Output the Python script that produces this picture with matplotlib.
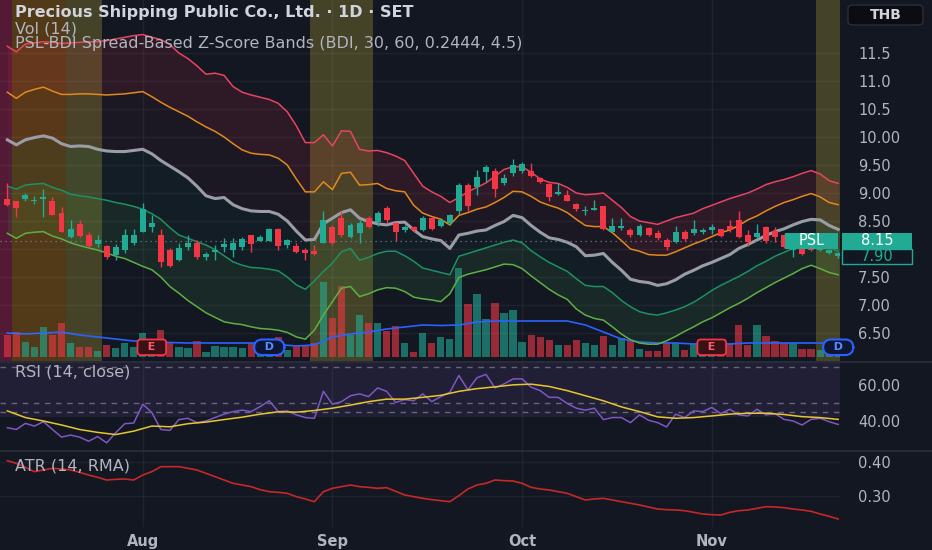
import numpy as np
import matplotlib.pyplot as plt
from matplotlib.patches import Rectangle, FancyBboxPatch
from matplotlib.lines import Line2D
from matplotlib.transforms import blended_transform_factory

# ---- daily candles (PSL, 1D, SET) ----
opens = [8.90, 8.86, 8.89, 8.86, 8.89, 8.86, 8.65, 8.21, 8.45, 8.25,
         8.09, 8.05, 7.89, 7.98, 8.11, 8.31, 8.39, 8.25, 7.99, 7.80,
         8.03, 8.11, 7.86, 7.95, 8.04, 7.99, 8.04, 8.25, 8.15, 8.15,
         8.35, 8.08, 8.05, 7.98, 7.97, 8.10, 8.40, 8.55, 8.21, 8.29,
         8.55, 8.49, 8.74, 8.47, 8.34, 8.39, 8.34, 8.55, 8.41, 8.47,
         8.68, 9.14, 9.10, 9.37, 9.40, 9.18, 9.35, 9.40, 9.40, 9.26,
         9.16, 8.98, 8.96, 8.80, 8.68, 8.70, 8.76, 8.31, 8.37, 8.34,
         8.25, 8.37, 8.28, 8.16, 8.13, 8.31, 8.29, 8.30, 8.34, 8.35,
         8.41, 8.52, 8.25, 8.22, 8.39, 8.33, 8.25, 7.98, 8.01, 8.04,
         7.99, 7.93, 7.87]
highs = [9.17, 8.86, 9.00, 8.95, 9.07, 8.93, 8.75, 8.51, 8.51, 8.31,
         8.25, 8.07, 8.09, 8.35, 8.35, 8.82, 8.61, 8.35, 8.01, 8.10,
         8.25, 8.16, 7.95, 8.07, 8.19, 8.19, 8.21, 8.25, 8.25, 8.37,
         8.37, 8.17, 8.10, 8.01, 8.07, 8.67, 8.43, 8.67, 8.47, 8.52,
         8.59, 8.67, 8.76, 8.49, 8.43, 8.41, 8.59, 8.58, 8.55, 8.63,
         9.18, 9.18, 9.41, 9.50, 9.44, 9.34, 9.60, 9.56, 9.54, 9.29,
         9.17, 9.17, 9.05, 8.82, 8.76, 8.87, 8.77, 8.55, 8.55, 8.37,
         8.45, 8.40, 8.34, 8.19, 8.41, 8.34, 8.52, 8.37, 8.45, 8.35,
         8.51, 8.67, 8.34, 8.45, 8.41, 8.40, 8.27, 8.08, 8.03, 8.05,
         8.05, 8.00, 7.94]
lows = [8.76, 8.58, 8.86, 8.80, 8.57, 8.61, 8.31, 8.19, 8.21, 8.03,
        8.04, 7.83, 7.80, 7.92, 8.07, 8.31, 8.31, 7.68, 7.67, 7.79,
        7.98, 7.83, 7.80, 7.80, 7.95, 7.85, 7.98, 7.95, 8.15, 8.15,
        7.99, 8.01, 7.92, 7.80, 7.89, 8.10, 8.07, 8.21, 8.19, 8.11,
        8.37, 8.41, 8.47, 8.15, 8.31, 8.31, 8.33, 8.34, 8.40, 8.43,
        8.63, 8.67, 8.96, 9.20, 8.92, 9.14, 9.30, 9.35, 9.28, 9.18,
        8.86, 8.96, 8.85, 8.67, 8.61, 8.70, 8.34, 8.31, 8.34, 8.21,
        8.23, 8.23, 8.16, 7.99, 8.11, 8.15, 8.25, 8.27, 8.27, 8.21,
        8.31, 8.19, 8.05, 8.19, 8.11, 8.13, 8.01, 7.85, 7.89, 7.97,
        7.97, 7.91, 7.84]
closes = [8.79, 8.74, 8.96, 8.88, 8.92, 8.61, 8.31, 8.35, 8.23, 8.05,
          8.16, 7.85, 8.04, 8.25, 8.25, 8.71, 8.46, 7.76, 7.70, 8.01,
          8.10, 7.85, 7.91, 7.99, 8.09, 8.10, 8.17, 8.09, 8.21, 8.35,
          8.05, 8.16, 7.95, 7.92, 7.91, 8.51, 8.10, 8.25, 8.43, 8.47,
          8.39, 8.64, 8.51, 8.31, 8.39, 8.34, 8.55, 8.35, 8.52, 8.61,
          9.15, 8.76, 9.29, 9.47, 9.07, 9.26, 9.50, 9.52, 9.31, 9.20,
          8.92, 9.01, 8.86, 8.71, 8.70, 8.73, 8.35, 8.41, 8.41, 8.25,
          8.41, 8.25, 8.19, 8.03, 8.31, 8.17, 8.35, 8.34, 8.40, 8.23,
          8.34, 8.21, 8.13, 8.29, 8.15, 8.21, 8.04, 8.03, 7.91, 7.98,
          8.03, 7.98, 7.92]
volume = [2.2, 2.5, 1.5, 1.0, 3.0, 2.2, 3.4, 1.4, 1.0, 1.0,
          0.6, 1.2, 0.9, 1.4, 1.0, 2.4, 1.8, 2.7, 1.4, 1.0,
          0.9, 1.6, 0.5, 1.1, 1.0, 1.0, 0.9, 1.4, 1.0, 1.0,
          2.0, 0.7, 1.2, 1.2, 1.4, 7.5, 3.9, 7.1, 2.2, 4.2,
          3.4, 3.4, 2.6, 3.1, 1.4, 0.5, 2.4, 1.4, 2.0, 1.8,
          8.9, 5.3, 6.3, 3.8, 5.4, 4.4, 4.7, 1.5, 2.2, 2.0,
          1.7, 1.2, 1.2, 1.7, 1.4, 1.2, 2.1, 1.2, 1.9, 1.7,
          0.8, 0.6, 0.6, 1.4, 1.4, 0.7, 1.3, 0.7, 0.8, 0.7,
          1.4, 3.2, 1.2, 3.2, 2.1, 1.6, 1.4, 1.4, 0.8, 0.8,
          0.7, 0.8, 0.7]
# Vol (14) average, read every second bar
vol_ma = [2.4, 2.3, 2.4, 2.5, 2.2, 2.0, 1.8, 1.6, 1.5, 1.45,
          1.4, 1.4, 1.4, 1.4, 1.4, 1.25, 1.1, 1.2, 2.0, 2.3,
          2.5, 2.8, 3.0, 3.2, 3.15, 3.2, 3.5, 3.6, 3.6, 3.6,
          3.6, 3.6, 3.2, 2.5, 1.8, 1.5, 1.4, 1.4, 1.3, 1.4,
          1.3, 1.4, 1.4, 1.4, 1.4, 1.4, 1.4]

# ---- PSL-BDI z-score bands ----
band_up2 = [11.62, 11.52, 11.66, 11.68, 11.70, 11.69, 11.67, 11.68, 11.69, 11.70,
            11.70, 11.72, 11.75, 11.78, 11.81, 11.83, 11.78, 11.74, 11.65, 11.50,
            11.40, 11.27, 11.12, 11.14, 11.10, 10.90, 10.80, 10.75, 10.71, 10.67,
            10.60, 10.45, 10.20, 9.90, 9.90, 10.04, 9.84, 10.11, 10.10, 9.78,
            9.75, 9.76, 9.72, 9.66, 9.58, 9.35, 9.12, 9.02, 8.94, 8.83,
            8.92, 9.02, 9.10, 9.18, 9.30, 9.42, 9.47, 9.47, 9.37, 9.25,
            9.19, 9.17, 9.10, 9.00, 8.97, 8.98, 9.00, 8.87, 8.74, 8.58,
            8.50, 8.47, 8.44, 8.50, 8.56, 8.60, 8.64, 8.72, 8.78, 8.84,
            8.90, 8.95, 9.00, 9.07, 9.15, 9.20, 9.24, 9.29, 9.35, 9.40,
            9.34, 9.22, 9.17]
band_up1 = [10.80, 10.69, 10.80, 10.85, 10.89, 10.82, 10.76, 10.76, 10.77, 10.77,
            10.76, 10.75, 10.76, 10.77, 10.79, 10.81, 10.72, 10.62, 10.53, 10.45,
            10.37, 10.27, 10.18, 10.10, 10.00, 9.88, 9.77, 9.71, 9.69, 9.68,
            9.62, 9.50, 9.25, 9.02, 9.02, 9.20, 9.06, 9.35, 9.37, 9.14,
            9.15, 9.17, 9.08, 9.04, 9.02, 8.78, 8.64, 8.58, 8.53, 8.43,
            8.60, 8.65, 8.71, 8.75, 8.83, 8.92, 9.03, 9.02, 8.94, 8.84,
            8.78, 8.73, 8.65, 8.53, 8.42, 8.40, 8.40, 8.29, 8.15, 8.00,
            7.96, 7.90, 7.89, 7.89, 7.95, 8.02, 8.09, 8.15, 8.22, 8.29,
            8.34, 8.42, 8.52, 8.59, 8.68, 8.76, 8.83, 8.88, 8.94, 8.99,
            8.93, 8.83, 8.79]
band_mid = [9.95, 9.86, 9.95, 9.99, 10.02, 9.98, 9.88, 9.83, 9.84, 9.83,
            9.78, 9.75, 9.74, 9.74, 9.76, 9.78, 9.70, 9.58, 9.48, 9.38,
            9.27, 9.12, 8.95, 8.90, 8.92, 8.79, 8.72, 8.68, 8.67, 8.67,
            8.62, 8.50, 8.32, 8.16, 8.17, 8.45, 8.55, 8.65, 8.70, 8.55,
            8.49, 8.45, 8.43, 8.47, 8.48, 8.34, 8.22, 8.18, 8.15, 8.01,
            8.25, 8.28, 8.32, 8.34, 8.42, 8.49, 8.60, 8.56, 8.42, 8.30,
            8.20, 8.17, 8.12, 8.04, 7.88, 7.89, 7.92, 7.76, 7.62, 7.46,
            7.42, 7.40, 7.35, 7.38, 7.45, 7.55, 7.62, 7.70, 7.76, 7.83,
            7.90, 8.01, 8.08, 8.16, 8.24, 8.31, 8.36, 8.43, 8.49, 8.53,
            8.52, 8.42, 8.35]
band_dn1 = [9.12, 9.07, 9.14, 9.16, 9.17, 9.10, 9.05, 8.98, 8.95, 8.93,
            8.90, 8.87, 8.83, 8.80, 8.76, 8.71, 8.63, 8.53, 8.38, 8.25,
            8.19, 8.13, 8.07, 7.99, 7.88, 7.77, 7.71, 7.67, 7.66, 7.64,
            7.61, 7.50, 7.36, 7.28, 7.43, 7.60, 7.75, 7.95, 8.01, 7.80,
            7.85, 7.92, 7.96, 7.96, 7.88, 7.78, 7.66, 7.62, 7.58, 7.54,
            7.87, 7.92, 7.97, 8.02, 8.07, 8.12, 8.16, 8.11, 7.97, 7.86,
            7.76, 7.68, 7.60, 7.47, 7.35, 7.33, 7.33, 7.22, 7.08, 6.97,
            6.88, 6.84, 6.82, 6.86, 6.91, 6.97, 7.05, 7.15, 7.26, 7.35,
            7.43, 7.51, 7.60, 7.70, 7.78, 7.87, 7.94, 8.01, 8.08, 8.13,
            8.09, 8.03, 7.96]
band_dn2 = [8.28, 8.19, 8.28, 8.30, 8.31, 8.23, 8.18, 8.11, 8.06, 8.02,
            7.98, 7.93, 7.87, 7.83, 7.76, 7.69, 7.63, 7.50, 7.33, 7.21,
            7.08, 6.97, 6.86, 6.78, 6.70, 6.67, 6.65, 6.61, 6.58, 6.57,
            6.55, 6.51, 6.43, 6.39, 6.55, 6.82, 7.06, 7.30, 7.33, 7.15,
            7.20, 7.27, 7.31, 7.30, 7.24, 7.14, 7.11, 7.09, 7.06, 7.20,
            7.49, 7.55, 7.59, 7.63, 7.68, 7.73, 7.72, 7.65, 7.52, 7.40,
            7.28, 7.18, 7.10, 6.93, 6.82, 6.76, 6.73, 6.61, 6.48, 6.38,
            6.32, 6.30, 6.30, 6.36, 6.44, 6.53, 6.61, 6.70, 6.77, 6.86,
            6.95, 7.03, 7.12, 7.22, 7.31, 7.40, 7.48, 7.56, 7.65, 7.71,
            7.65, 7.58, 7.54]

# ---- RSI (14, close) and its average (read every second bar) ----
rsi = [36.5, 35.5, 38.9, 37.4, 39.8, 35.5, 31.3, 32.4, 31.3, 29.0,
       31.6, 28.1, 33.7, 38.7, 39.1, 49.5, 44.9, 35.5, 35.0, 41.0,
       41.7, 39.3, 40.2, 42.1, 44.0, 45.4, 46.2, 45.4, 48.2, 51.4,
       45.4, 45.8, 43.6, 42.1, 41.7, 56.6, 49.5, 50.9, 54.2, 55.2,
       53.7, 58.5, 56.6, 50.5, 52.0, 51.4, 55.2, 50.9, 53.7, 56.1,
       65.4, 57.4, 64.1, 66.0, 58.5, 60.7, 63.5, 63.5, 58.9, 57.0,
       53.3, 53.3, 49.9, 47.3, 46.2, 47.3, 41.0, 42.1, 42.1, 39.3,
       43.6, 40.6, 39.3, 36.9, 44.0, 42.1, 45.8, 45.4, 47.7, 44.3,
       46.7, 43.6, 43.0, 46.7, 43.6, 44.3, 41.1, 40.2, 38.0, 41.1,
       41.7, 39.8, 38.3]
rsi_ma = [45.8, 42.1, 40.2, 38.0, 35.5, 33.9, 32.7, 34.6, 37.4, 37.0,
          38.7, 39.6, 41.0, 42.3, 44.0, 45.3, 45.1, 46.0, 47.3, 49.0,
          50.9, 52.3, 52.3, 53.3, 54.4, 56.6, 58.1, 59.1, 60.2, 60.6,
          59.3, 57.0, 54.2, 51.4, 48.0, 45.4, 42.5, 41.7, 42.1, 43.0,
          44.0, 44.5, 44.5, 43.8, 42.6, 42.1, 41.1]
rsi_levels = [70, 50, 45]
rsi_zone = (42.6, 80)

# ---- ATR (14, RMA) ----
atr = [0.405, 0.397, 0.385, 0.372, 0.377, 0.382, 0.380, 0.377, 0.370, 0.362,
       0.355, 0.347, 0.349, 0.350, 0.347, 0.362, 0.372, 0.387, 0.387, 0.387,
       0.382, 0.377, 0.367, 0.357, 0.347, 0.337, 0.332, 0.327, 0.318, 0.312,
       0.310, 0.307, 0.297, 0.290, 0.282, 0.312, 0.322, 0.327, 0.332, 0.327,
       0.325, 0.322, 0.324, 0.313, 0.302, 0.297, 0.292, 0.288, 0.285, 0.282,
       0.300, 0.320, 0.332, 0.337, 0.347, 0.345, 0.344, 0.337, 0.325, 0.320,
       0.317, 0.312, 0.307, 0.297, 0.287, 0.290, 0.292, 0.287, 0.282, 0.277,
       0.272, 0.266, 0.260, 0.258, 0.257, 0.255, 0.250, 0.245, 0.243, 0.242,
       0.250, 0.255, 0.257, 0.262, 0.267, 0.266, 0.264, 0.260, 0.257, 0.253,
       0.245, 0.238, 0.230]

# signal zones painted behind the price (bar ranges, level 3 = strongest)
zone_start = [-1.5, 0.5, 6.5, 33.5, 89.5]
zone_end = [0.5, 6.5, 10.5, 40.5, 93.5]
zone_level = [3, 2, 1, 1, 1]
earnings_bars = [16, 78]
dividend_bars = [29, 92]

month_bars = [15, 36, 57, 78]
month_labels = ['Aug', 'Sep', 'Oct', 'Nov']
price_ticks = [6.5, 7.0, 7.5, 8.0, 8.5, 9.0, 9.5, 10.0, 10.5, 11.0, 11.5]
price_labels = ['6.50', '7.00', '7.50', '', '8.50', '9.00', '9.50', '10.00', '10.5', '11.0', '11.5']
last_price = 8.15
close_price = '7.90'

BG = '#131722'
TXT = '#b2b5be'
UP = '#22ab94'
DOWN = '#f23645'
zone_colors = {3: ('#e91e63', 0.30), 2: ('#ff9800', 0.27), 1: ('#ffeb3b', 0.21)}
grid_kw = dict(color='white', alpha=0.05, lw=1)

W, H = 932, 550


def rect(x0, y0, x1, y1):
    return [x0 / W, 1 - y1 / H, (x1 - x0) / W, (y1 - y0) / H]


bars = np.arange(len(closes))
half = bars[::2]
o = np.array(opens)
c = np.array(closes)
up = c >= o
ccol = np.where(up, UP, DOWN)

fig = plt.figure(figsize=(W / 100, H / 100), dpi=100, facecolor=BG)
ax_vol = fig.add_axes(rect(0, 0, 840, 361))
ax = fig.add_axes(rect(0, 0, 840, 361), sharex=ax_vol)
ax_rsi = fig.add_axes(rect(0, 361, 840, 451), sharex=ax_vol)
ax_atr = fig.add_axes(rect(0, 451, 840, 527), sharex=ax_vol)

for a in (ax_vol, ax, ax_rsi, ax_atr):
    a.set_facecolor(BG)
    for s in a.spines.values():
        s.set_visible(False)
    a.set_xticks(month_bars)
    a.tick_params(axis='x', length=0, labelbottom=False)
    a.set_axisbelow(True)
for a in (ax_vol, ax_rsi, ax_atr):
    a.grid(True, axis='x', **grid_kw)
ax.patch.set_visible(False)
ax_vol.set_xlim(-0.81, 92.2)

# zones + volume (bottom layer)
for s, e, lv in zip(zone_start, zone_end, zone_level):
    col, al = zone_colors[lv]
    ax_vol.axvspan(s, e, color=col, alpha=al, lw=0, zorder=0)
ax_vol.bar(bars, volume, width=0.8, color=ccol, alpha=0.6, zorder=1)
ax_vol.plot(half, vol_ma, color='#2962ff', lw=1.2, zorder=2)
ax_vol.set_ylim(-0.4, 35.7)
ax_vol.set_yticks([])

# bands
ax.fill_between(bars, band_up2, band_up1, color=DOWN, alpha=0.12, lw=0, zorder=1)
ax.fill_between(bars, band_up1, band_mid, color=DOWN, alpha=0.04, lw=0, zorder=1)
ax.fill_between(bars, band_mid, band_dn1, color='#089981', alpha=0.05, lw=0, zorder=1)
ax.fill_between(bars, band_dn1, band_dn2, color='#4caf50', alpha=0.12, lw=0, zorder=1)
ax.plot(bars, band_up2, color='#e8445f', lw=1.1, zorder=2)
ax.plot(bars, band_up1, color='#e08a1e', lw=1.1, zorder=2)
ax.plot(bars, band_mid, color='#9a9da6', lw=2.2, zorder=2)
ax.plot(bars, band_dn1, color='#1d9163', lw=1.1, zorder=2)
ax.plot(bars, band_dn2, color='#5fae45', lw=1.1, zorder=2)
ax.axhline(last_price, color='#787b86', lw=0.9, ls=(0, (1, 3)), zorder=2.5)

# candles
ax.vlines(bars, lows, highs, color=ccol, lw=1, zorder=3)
body = np.maximum(np.abs(c - o), 0.012)
ax.bar(bars, body, bottom=np.minimum(o, c), width=0.66, color=ccol, zorder=3.1)

ax.set_ylim(6.0, 12.446)
ax.yaxis.tick_right()
ax.set_yticks(price_ticks)
ax.set_yticklabels(price_labels)
ax.tick_params(axis='y', length=0, pad=13, labelsize=10.5, labelcolor=TXT)
ax.grid(True, axis='y', **grid_kw)

# event badges
for b in earnings_bars:
    ax.annotate('  E  ', xy=(b, 0.038), xycoords=('data', 'axes fraction'),
                ha='center', va='center', fontsize=8, fontweight='bold', color='#ff5c6c',
                bbox=dict(boxstyle='round,pad=0.25,rounding_size=0.3', fc='#3a1117', ec=DOWN, lw=1.3),
                zorder=6, annotation_clip=False)
for b in dividend_bars:
    ax.annotate('  D  ', xy=(b, 0.038), xycoords=('data', 'axes fraction'),
                ha='center', va='center', fontsize=8, fontweight='bold', color='#5b8cff',
                bbox=dict(boxstyle='round,pad=0.25,rounding_size=0.75', fc='#0d1633', ec='#2962ff', lw=1.5),
                zorder=6, annotation_clip=False)

# RSI pane
ax_rsi.axhspan(rsi_zone[0], rsi_zone[1], color='#7e57c2', alpha=0.13, lw=0, zorder=0)
for lv in rsi_levels:
    ax_rsi.axhline(lv, color='#787b86', lw=1, ls=(0, (4, 4)), alpha=0.8, zorder=1)
ax_rsi.plot(bars, rsi, color='#7e57c2', lw=1.1, zorder=3)
ax_rsi.plot(half, rsi_ma, color='#e8c630', lw=1.1, zorder=3)
ax_rsi.set_ylim(23.6, 73.4)
ax_rsi.yaxis.tick_right()
ax_rsi.set_yticks([40, 60])
ax_rsi.set_yticklabels(['40.00', '60.00'])
ax_rsi.tick_params(axis='y', length=0, pad=13, labelsize=10.5, labelcolor=TXT)

# ATR pane
ax_atr.plot(bars, atr, color='#c62828', lw=1.2, zorder=3)
ax_atr.set_ylim(0.206, 0.434)
ax_atr.yaxis.tick_right()
ax_atr.set_yticks([0.30, 0.40])
ax_atr.set_yticklabels(['0.30', '0.40'])
ax_atr.tick_params(axis='y', length=0, pad=13, labelsize=10.5, labelcolor=TXT)
ax_atr.grid(True, axis='y', **grid_kw)
ax_atr.set_xticklabels(month_labels)
ax_atr.tick_params(axis='x', labelbottom=True, pad=5, labelsize=10.5, labelcolor=TXT)
for t in ax_atr.get_xticklabels():
    t.set_fontweight('bold')

# pane separators
for yy in (361.5, 451):
    fig.add_artist(Line2D([0, 1], [1 - yy / H] * 2, color='#2a2e39', lw=1.2))

# price labels on the scale
trans = blended_transform_factory(fig.transFigure, ax.transData)
px = (12.446 - 6.0) / 361
fig.add_artist(Rectangle((842 / W, last_price - 8 * px), 70 / W, 16 * px, transform=trans,
                         fc=UP, ec='none', zorder=4))
fig.text(877 / W, last_price, '8.15', transform=trans, ha='center', va='center', color='white',
         fontsize=10.5, zorder=6)
fig.add_artist(Rectangle((842 / W, last_price - 23.5 * px), 70 / W, 15 * px, transform=trans,
                         fc=BG, ec=UP, lw=1, zorder=4))
fig.text(877 / W, last_price - 16 * px, close_price, transform=trans, ha='center', va='center',
         color=UP, fontsize=10.5, zorder=6)
fig.add_artist(Rectangle((785 / W, last_price - 8 * px), 53 / W, 16 * px, transform=trans,
                         fc=UP, ec='none', zorder=4))
fig.text(811.5 / W, last_price, 'PSL', transform=trans, ha='center', va='center', color='white',
         fontsize=10.5, zorder=6)

fig.add_artist(FancyBboxPatch((848 / W, 1 - 25 / H), 75 / W, 20 / H, boxstyle='round,pad=0,rounding_size=0.006',
                              transform=fig.transFigure, fc='#0b0d13', ec='#2a2e39', lw=1, zorder=4))
fig.text(885.5 / W, 1 - 15 / H, 'THB', ha='center', va='center', color='#d1d4dc', fontsize=10,
         fontweight='bold', zorder=6)

# legend texts
fig.text(15 / W, 1 - 13 / H, 'Precious Shipping Public Co., Ltd. · 1D · SET', color='#d1d4dc',
         fontsize=11.5, fontweight='bold', va='center')
fig.text(15 / W, 1 - 28.5 / H, 'Vol (14)', color=TXT, fontsize=11.5, va='center')
fig.text(15 / W, 1 - 43.5 / H, 'PSL-BDI Spread-Based Z-Score Bands (BDI, 30, 60, 0.2444, 4.5)', color=TXT,
         fontsize=11.5, va='center')
fig.text(15 / W, 1 - 372 / H, 'RSI (14, close)', color=TXT, fontsize=11.5, va='center')
fig.text(15 / W, 1 - 466 / H, 'ATR (14, RMA)', color=TXT, fontsize=11.5, va='center')

fig.savefig('out.png', dpi=100, facecolor=BG)
